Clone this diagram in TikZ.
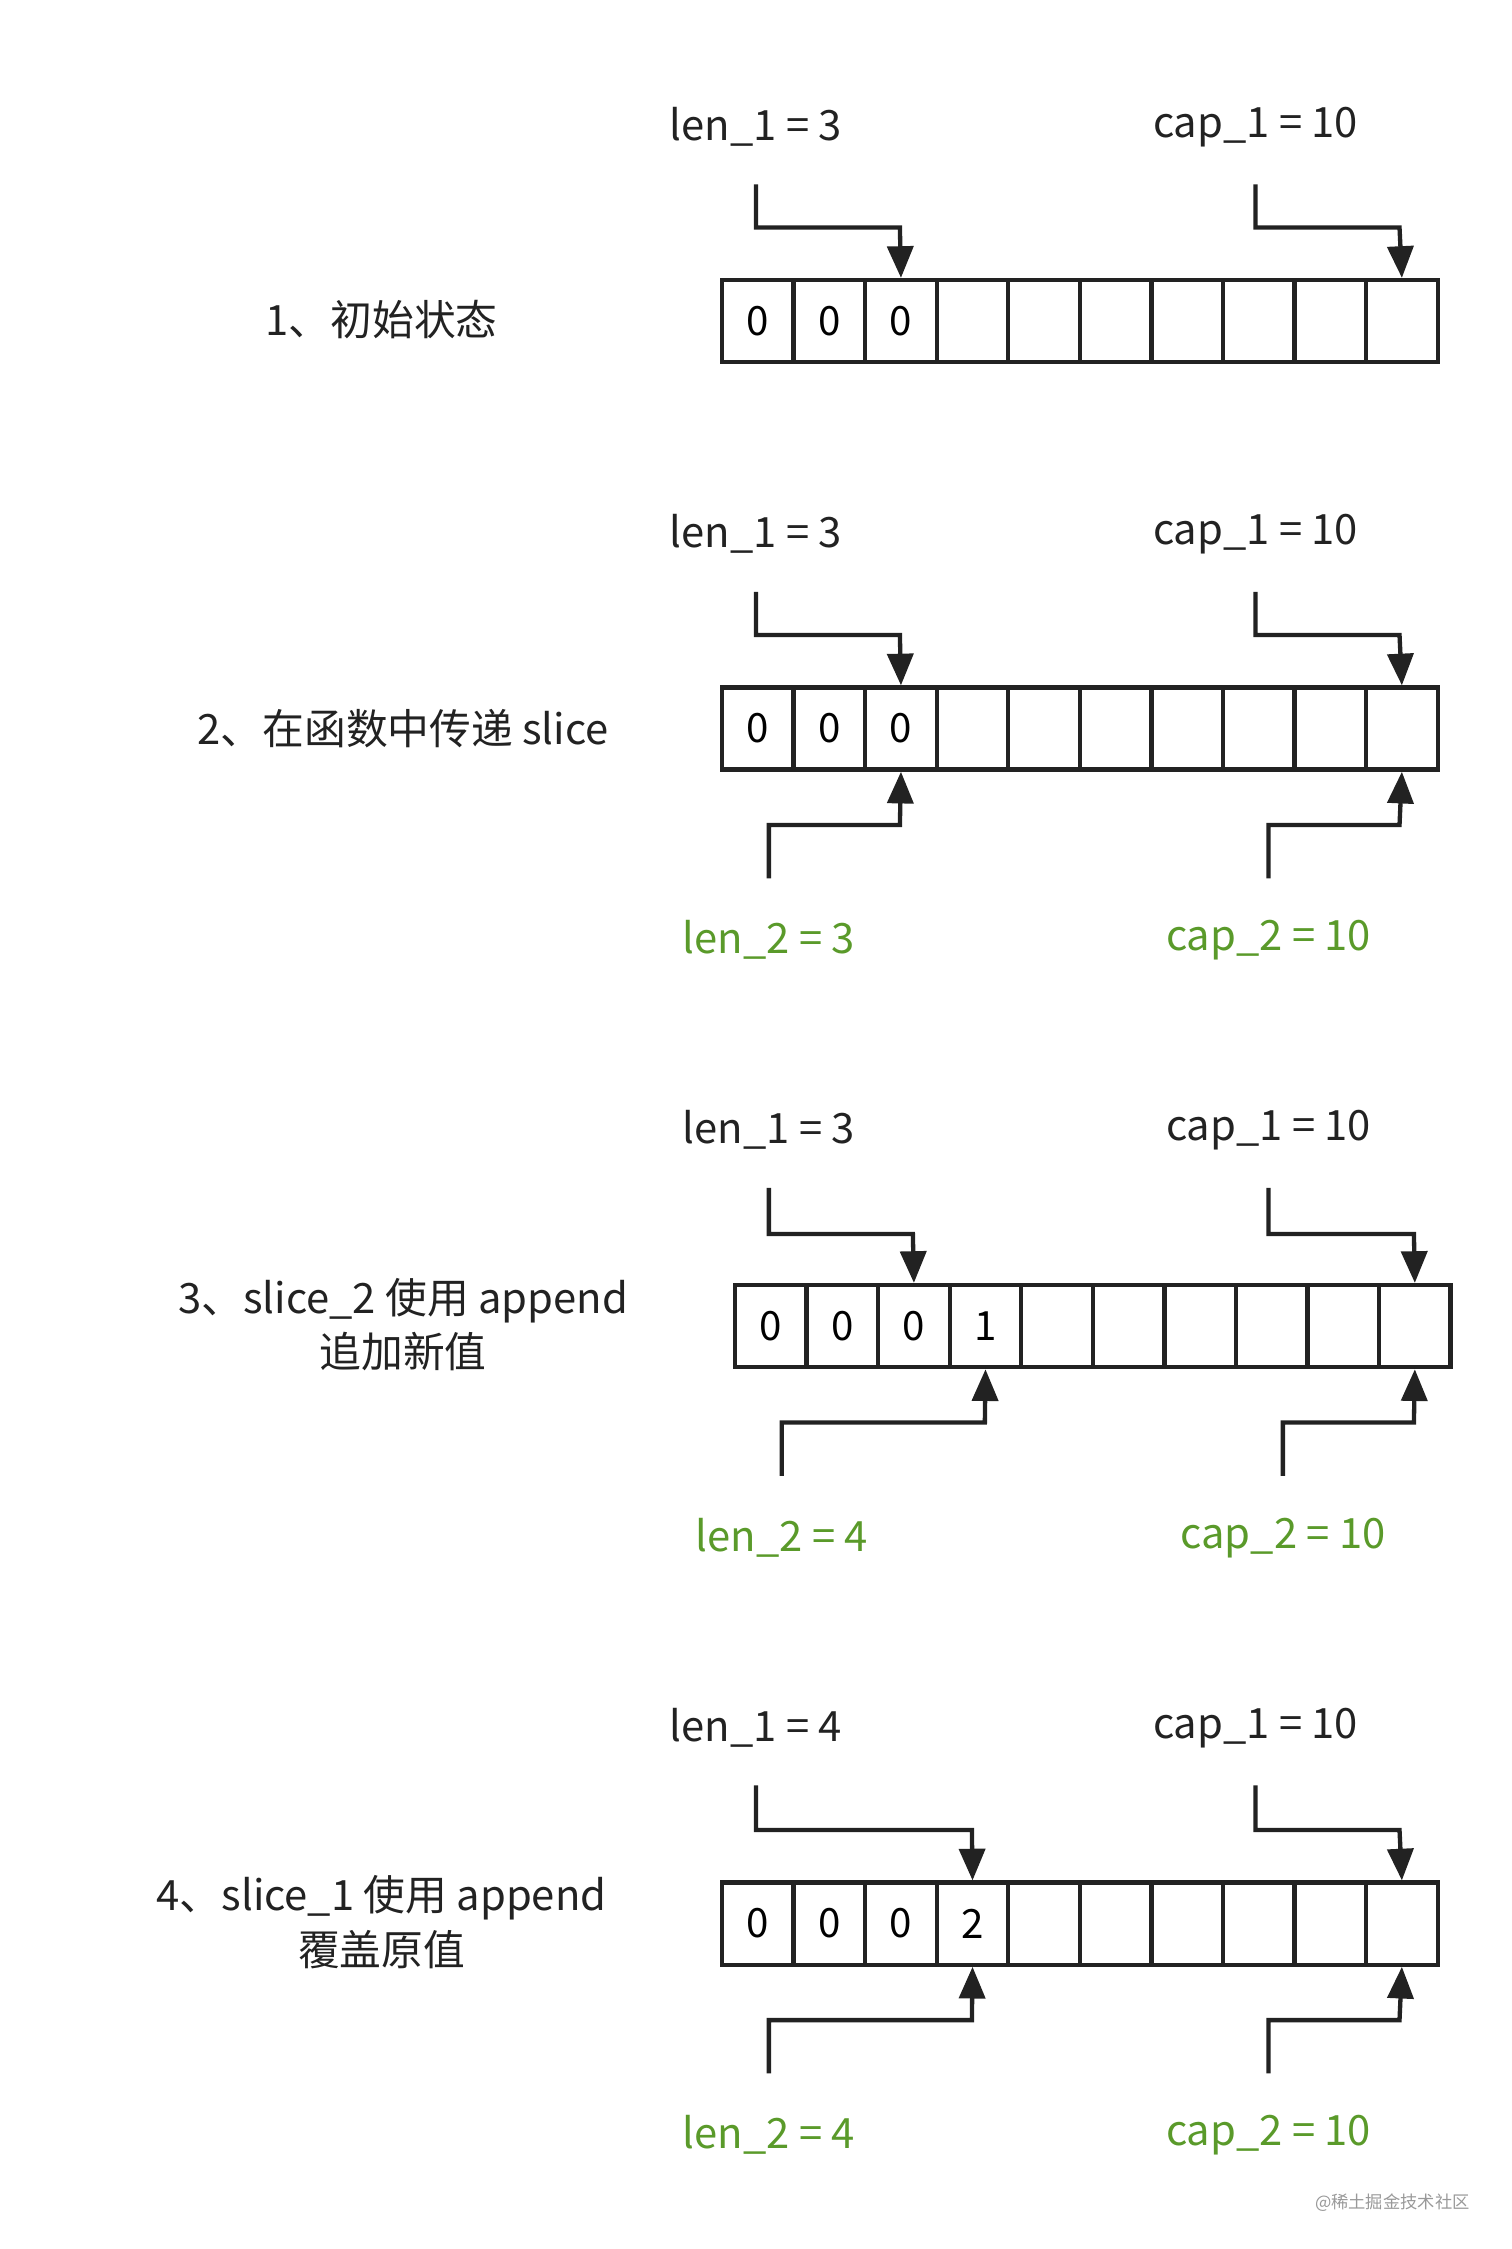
\documentclass[tikz,border=0pt]{standalone}
\usepackage{fontspec}
\setmainfont{Noto Sans CJK SC}
\usetikzlibrary{arrows.meta}
\definecolor{grn}{HTML}{5A9A2A}
\definecolor{ln}{HTML}{222222}
\tikzset{
  px/.style={x=0.5pt,y=-0.5pt},
  cellbox/.style={draw=ln,line width=1.5pt,minimum width=24.85pt,minimum height=28.5pt,inner sep=0pt,font=\fontsize{14}{16}\selectfont,anchor=north west},
  ptr/.style={draw=ln,line width=1.5pt,-{Triangle[length=11pt,width=9pt]}},
  lab/.style={font=\fontsize{14.5}{17}\selectfont,text=ln},
  glab/.style={font=\fontsize{14.5}{17}\selectfont,text=grn},
  title/.style={font=\fontsize{14.5}{19}\selectfont,text=ln,align=center}
}
\newcommand{\arr}[4]{% prefix, x0, y0, values
  \foreach \v [count=\i from 0] in {#4} {
    \node[cellbox] (#1c\i) at ({#2+\i*49.7},#3) {\v};
  }
}
\begin{document}
\begin{tikzpicture}[px]
\useasboundingbox (0,0) rectangle (1050,1562);
% Section 1
\arr{a}{500}{193}{0,0,0,,,,,,,}
\node[lab] (a1) at (525,88) {len\_1 = 3};
\node[lab] (a2) at (872,88) {cap\_1 = 10};
\coordinate (a1s) at (525,128); \coordinate (a2s) at (872,128);
\draw[ptr] (a1s) |- (625,158) -- (ac2.north);
\draw[ptr] (a2s) |- (972,158) -- (ac9.north);
\node[title] (t1) at (265,222) {1、初始状态};
% Section 2
\arr{b}{500}{476}{0,0,0,,,,,,,}
\node[lab] (b1) at (525,371) {len\_1 = 3};
\node[lab] (b2) at (872,371) {cap\_1 = 10};
\coordinate (b1s) at (525,411); \coordinate (b2s) at (872,411);
\draw[ptr] (b1s) |- (625,441) -- (bc2.north);
\draw[ptr] (b2s) |- (972,441) -- (bc9.north);
\node[glab] (b3) at (534,653) {len\_2 = 3};
\node[glab] (b4) at (881,653) {cap\_2 = 10};
\coordinate (b3s) at (534,610); \coordinate (b4s) at (881,610);
\draw[ptr] (b3s) |- (625,573) -- (bc2.south);
\draw[ptr] (b4s) |- (972,573) -- (bc9.south);
\node[title] (t2) at (280,506) {2、在函数中传递 slice};
% Section 3
\arr{c}{509}{891}{0,0,0,1,,,,,,}
\node[lab] (c1) at (534,785) {len\_1 = 3};
\node[lab] (c2) at (881,785) {cap\_1 = 10};
\coordinate (c1s) at (534,825); \coordinate (c2s) at (881,825);
\draw[ptr] (c1s) |- (634,857) -- (cc2.north);
\draw[ptr] (c2s) |- (982,857) -- (cc9.north);
\node[glab] (c3) at (543,1068) {len\_2 = 4};
\node[glab] (c4) at (891,1068) {cap\_2 = 10};
\coordinate (c3s) at (543,1025); \coordinate (c4s) at (891,1025);
\draw[ptr] (c3s) |- (684,988) -- (cc3.south);
\draw[ptr] (c4s) |- (982,988) -- (cc9.south);
\node[title] (t3) at (280,920) {3、slice\_2 使用 append\\追加新值};
% Section 4
\arr{d}{500}{1306}{0,0,0,2,,,,,,}
\node[lab] (d1) at (525,1200) {len\_1 = 4};
\node[lab] (d2) at (872,1200) {cap\_1 = 10};
\coordinate (d1s) at (525,1240); \coordinate (d2s) at (872,1240);
\draw[ptr] (d1s) |- (675,1271) -- (dc3.north);
\draw[ptr] (d2s) |- (972,1271) -- (dc9.north);
\node[glab] (d3) at (534,1483) {len\_2 = 4};
\node[glab] (d4) at (881,1483) {cap\_2 = 10};
\coordinate (d3s) at (534,1440); \coordinate (d4s) at (881,1440);
\draw[ptr] (d3s) |- (675,1403) -- (dc3.south);
\draw[ptr] (d4s) |- (972,1403) -- (dc9.south);
\node[title] (t4) at (265,1335) {4、slice\_1 使用 append\\覆盖原值};
\node[font=\fontsize{6}{7}\selectfont,text=black!40] (wm) at (967,1530) {@稀土掘金技术社区};
\end{tikzpicture}
\end{document}
